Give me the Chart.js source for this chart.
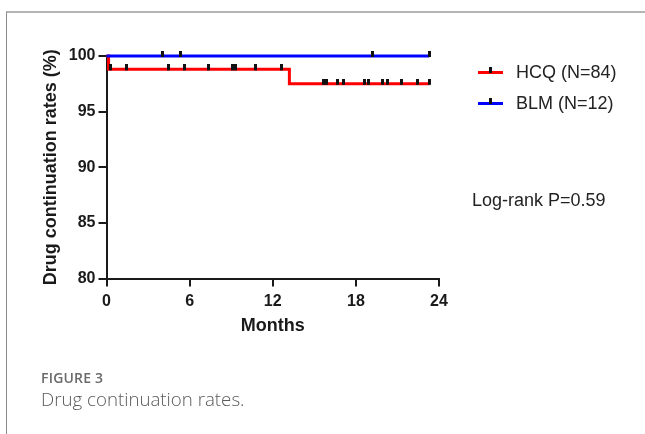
<!DOCTYPE html>
<html>
<head>
<meta charset="utf-8">
<script src="https://cdn.jsdelivr.net/npm/chart.js@4"></script>
<style>
  html, body { margin: 0; padding: 0; background: #fff; }
  body { width: 645px; height: 434px; position: relative; overflow: hidden; }
  .frame { position: absolute; left: 6px; top: 11px; right: 0; bottom: 0;
           border-top: 2px solid #b4b4b4; border-left: 1px solid #8a8a8a; }
  canvas { position: absolute; left: 0; top: 0; }
  .legend, .note { position: absolute; font-family: "Liberation Sans", Arial, sans-serif;
                   font-size: 18px; color: #222; white-space: nowrap; }
  .legend { left: 478px; line-height: 20px; }
  .legend .sw { display: inline-block; position: relative; width: 25px; height: 3px;
                vertical-align: middle; margin-right: 13px; top: -1px; }
  .legend .sw::after { content: ""; position: absolute; left: 11px; top: -4px;
                       width: 3px; height: 6px; background: #111; }
  .cap1, .cap2 { position: absolute; left: 41px; font-family: "Open Sans", sans-serif;
                 white-space: nowrap; }
  .cap1 { top: 368px; font-size: 14px; font-weight: 600; color: #6a6a6a; letter-spacing: 0.2px; }
  .cap2 { top: 386px; font-size: 18.7px; font-weight: 300; color: #5a5a5a; }
</style>
</head>
<body>
<div class="frame"></div>
<canvas id="km" width="645" height="434"></canvas>
<div class="legend" style="top:62px"><span class="sw" style="background:#ff0000"></span>HCQ (N=84)</div>
<div class="legend" style="top:93px"><span class="sw" style="background:#0000ff"></span>BLM (N=12)</div>
<div class="note" style="left:472px; top:190px">Log-rank P=0.59</div>
<div class="cap1">FIGURE 3</div>
<div class="cap2">Drug continuation rates.</div>
<script>
// Kaplan-Meier: curvas escalonadas + marcas de censura
const hcqTimes = [0, 0.15, 13.2, 23.31];
const hcqRates = [100, 98.8, 97.5, 97.5];
const blmTimes = [0, 23.31];
const blmRates = [100, 100];

const hcqCensorTimes = [0.32, 1.46, 4.45, 5.61, 7.33, 9.09, 9.33, 10.77, 12.62,
  15.63, 15.89, 16.66, 17.09, 18.61, 18.91, 19.9, 20.3, 21.31, 22.46, 23.31];
const hcqCensorRates = [98.8, 98.8, 98.8, 98.8, 98.8, 98.8, 98.8, 98.8, 98.8,
  97.5, 97.5, 97.5, 97.5, 97.5, 97.5, 97.5, 97.5, 97.5, 97.5, 97.5];
const blmCensorTimes = [4.02, 5.32, 19.22, 23.31];
const blmCensorRates = [100, 100, 100, 100];

const xTicks = [0, 6, 12, 18, 24];
const yTicks = [80, 85, 90, 95, 100];

const ink = "#1a1a1a";
const pts = (xs, ys) => xs.map((x, i) => ({ x, y: ys[i] }));

// marca de censura: trazo vertical que sube desde la curva
const tick = document.createElement("canvas");
tick.width = 3; tick.height = 10;
const tctx = tick.getContext("2d");
tctx.fillStyle = "#111";
tctx.fillRect(0, 0, 3, 6);

const censor = (data) => ({
  data, showLine: false, pointStyle: tick, pointRadius: 3, pointHoverRadius: 3, clip: false,
});
const curve = (data, color) => ({
  data, showLine: true, stepped: true, borderColor: color, borderWidth: 3, pointRadius: 0,
  fill: false, clip: false, borderCapStyle: "butt",
});

const tickFont = { family: "'Liberation Sans', Arial, sans-serif", size: 16, weight: "bold" };
const titleFont = { family: "'Liberation Sans', Arial, sans-serif", size: 18, weight: "bold" };

new Chart(document.getElementById("km"), {
  type: "scatter",
  data: {
    datasets: [
      censor(pts(hcqCensorTimes, hcqCensorRates)),
      censor(pts(blmCensorTimes, blmCensorRates)),
      curve(pts(blmTimes, blmRates), "#0000ff"),
      curve(pts(hcqTimes, hcqRates), "#ff0000"),
    ],
  },
  options: {
    responsive: false,
    animation: false,
    events: [],
    layout: { padding: { left: 36, top: 56, right: 206, bottom: 93 } },
    plugins: { legend: { display: false }, tooltip: { enabled: false } },
    scales: {
      x: {
        type: "linear", min: 0, max: 24,
        afterBuildTicks: (s) => { s.ticks = xTicks.map((v) => ({ value: v })); },
        afterFit: (s) => { s.height = 62.5; },
        border: { color: ink, width: 2 },
        grid: { drawOnChartArea: false, drawTicks: true, tickLength: 8, color: ink, lineWidth: 2 },
        ticks: { color: ink, font: tickFont, padding: 5, maxRotation: 0 },
        title: { display: true, text: "Months", color: ink, font: titleFont },
      },
      y: {
        type: "linear", min: 80, max: 100,
        afterBuildTicks: (s) => { s.ticks = yTicks.map((v) => ({ value: v })); },
        afterFit: (s) => { s.width = 70.5; },
        border: { color: ink, width: 2 },
        grid: { drawOnChartArea: false, drawTicks: true, tickLength: 8, color: ink, lineWidth: 2 },
        ticks: { color: ink, font: tickFont, padding: 3 },
        title: { display: true, text: "Drug continuation rates (%)", color: ink, font: titleFont },
      },
    },
  },
});
</script>
</body>
</html>
